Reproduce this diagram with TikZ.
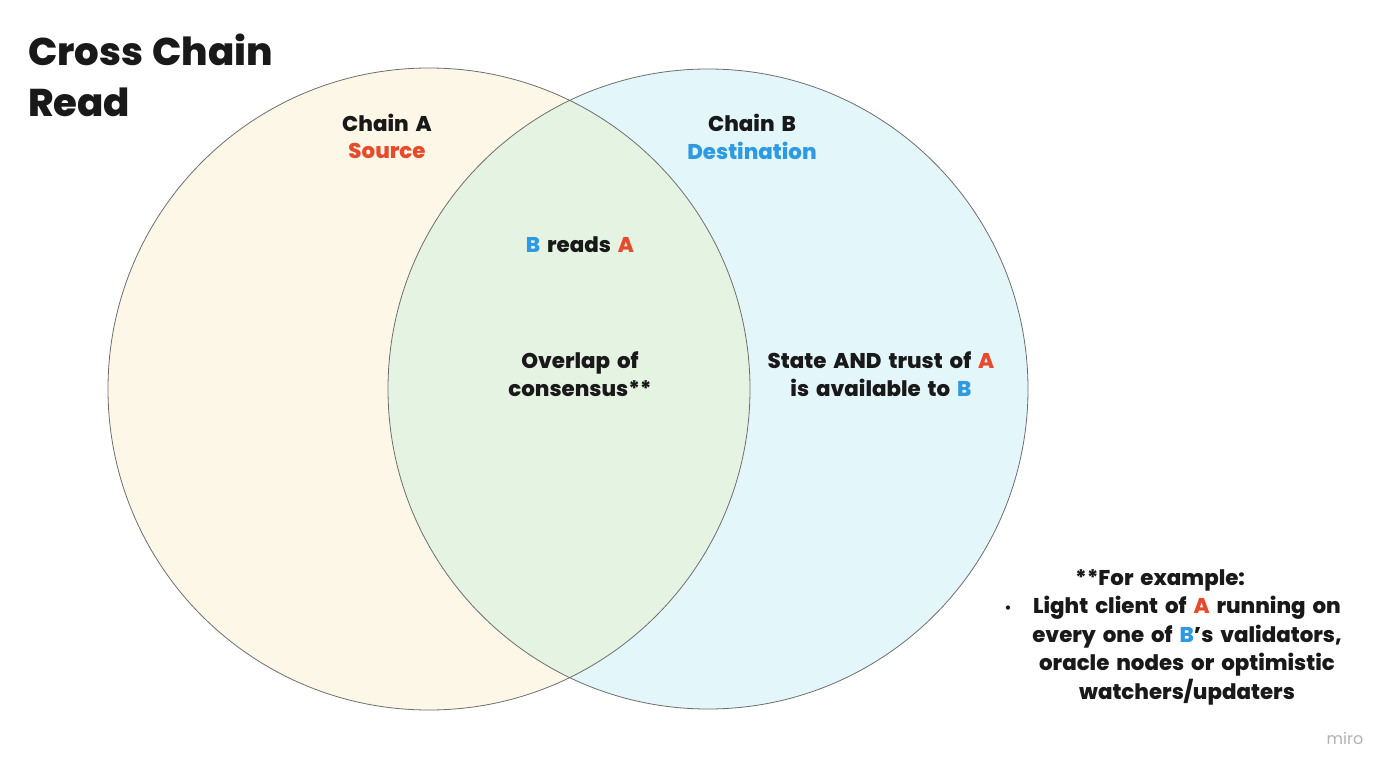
\documentclass[tikz,border=0pt]{standalone}
\usepackage{fontspec}
\setmainfont{Poppins}[WordSpace=1.7, BoldFont={Poppins ExtraBold}]
\newfontfamily\ttlfont{Poppins}[WordSpace=1.2, BoldFont={Poppins ExtraBold}]
\definecolor{cA}{RGB}{253,247,231}
\definecolor{cB}{RGB}{227,247,251}
\definecolor{cAB}{RGB}{229,243,227}
\definecolor{redA}{RGB}{232,74,44}
\definecolor{blueB}{RGB}{48,154,224}
\definecolor{txt}{RGB}{25,25,25}
\definecolor{edge}{RGB}{110,110,110}
\newcommand{\RA}{\textcolor{redA}{A}}
\newcommand{\BB}{\textcolor{blueB}{B}}
\begin{document}
\begin{tikzpicture}[x=0.75pt,y=-0.75pt,
  lbl/.style={font=\fontsize{16}{21.5}\selectfont\bfseries, text=txt, align=center, inner sep=0pt},
  ttl/.style={font=\ttlfont\fontsize{29}{39}\selectfont\bfseries, text=txt, align=left, inner sep=0pt, anchor=north west}]
\useasboundingbox (0,0) rectangle (1400,777);
\fill[white] (0,0) rectangle (1400,777);
\coordinate (ca) at (429,389);
\coordinate (cb) at (708,389);
\fill[cA] (ca) circle (321);
\fill[cB] (cb) circle (320);
\begin{scope}
  \clip (ca) circle (321);
  \fill[cAB] (cb) circle (320);
\end{scope}
\draw[edge, line width=0.6pt] (ca) circle (321);
\draw[edge, line width=0.6pt] (cb) circle (320);

\node[ttl] (title) at (28,34) {Cross Chain\\[-1pt]Read};

\node[lbl] (chainA) at (387,123) {Chain A};
\node[lbl, text=redA] (source) at (387,151) {Source};
\node[lbl] (chainB) at (752,123) {Chain B};
\node[lbl, text=blueB] (dest) at (752,151) {Destination};
\node[lbl] (reads) at (580,245) {\BB{} reads \RA};
\node[lbl] (overlap) at (580,374) {Overlap of\\consensus**};
\node[lbl] (state) at (881,374) {State AND trust of \RA\\is available to \BB};

\node[lbl] (forex) at (1160,580) {**For example:};
\node[lbl] (bullet) at (1008,609) {{\fontsize{10}{10}\selectfont •}};
\node[lbl, anchor=north] (example) at (1187,596) {Light client of \RA{} running on\\every one of \BB's validators,\\oracle nodes or optimistic\\watchers/updaters};

\node[font=\fontsize{12}{14}\selectfont, text=black!30, inner sep=0pt] (miro) at (1345,738) {miro};
\end{tikzpicture}
\end{document}
